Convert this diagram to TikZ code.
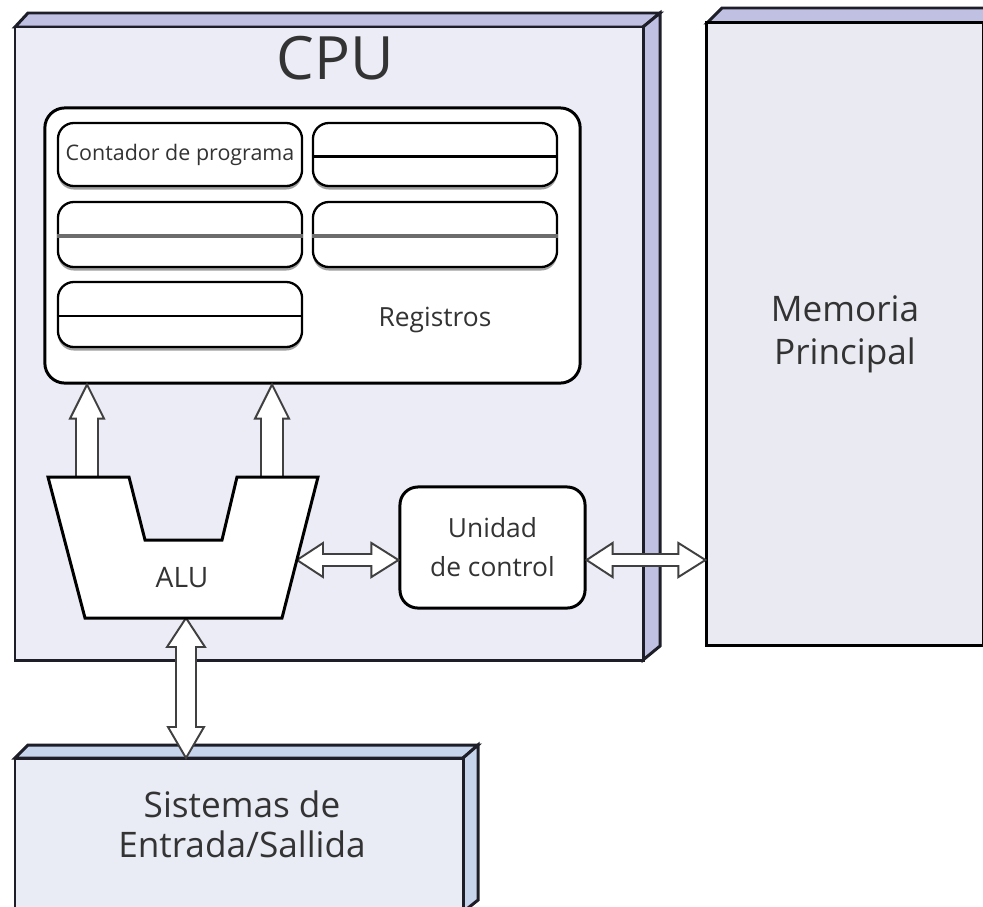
\documentclass[tikz,border=0pt]{standalone}
\usepackage{fontspec}
\setmainfont{Open Sans}
\usetikzlibrary{calc,shadows}
\definecolor{cpufill}{HTML}{ECECF6}
\definecolor{cpubevel}{HTML}{C0C0E2}
\definecolor{memfill}{HTML}{EAEAF3}
\definecolor{iofill}{HTML}{E9EBF5}
\definecolor{iobevel}{HTML}{C6D5EC}
\definecolor{txt}{HTML}{333333}
\definecolor{edge}{HTML}{1E1E28}
\tikzset{
  boxline/.style={draw=edge, line width=0.85pt, line join=miter},
  regbox/.style={draw=black, line width=0.65pt, fill=white, rounded corners=0.16cm,
    minimum width=2.44cm, minimum height=0.63cm, inner sep=0pt, text=txt,
    drop shadow={shadow xshift=0cm, shadow yshift=-0.035cm, fill=gray!75, opacity=1}},
  regsbox/.style={draw=black, line width=0.85pt, fill=white, rounded corners=0.2cm,
    minimum width=5.35cm, minimum height=2.75cm, inner sep=0pt},
  cubox/.style={draw=black, line width=0.85pt, fill=white, rounded corners=0.18cm,
    minimum width=1.85cm, minimum height=1.21cm, inner sep=0pt, align=center, text=txt,
    font=\fontsize{7.5}{11.1}\selectfont},
  memface/.style={draw=black, line width=0.85pt, fill=memfill, minimum width=2.76cm,
    minimum height=6.22cm, inner sep=0pt, align=center, text=txt,
    font=\fontsize{10}{12.2}\selectfont},
  label/.style={text=txt, inner sep=0pt, align=center},
  barrow/.style={fill=white, draw=black!75, line width=0.55pt, line join=miter},
  midline/.style={draw=black, line width=0.65pt},
  greyline/.style={draw=gray!85!black, line width=1.3pt}
}
\newcommand\blkup[2]{%
  \draw[barrow] (#2) -- ($(#2)+(17,34)$) -- ($(#2)+(11,34)$) -- ($(#1)+(11,0)$)
    -- ($(#1)+(-11,0)$) -- ($(#2)+(-11,34)$) -- ($(#2)+(-17,34)$) -- cycle;}
\newcommand\blkvv[2]{%
  \draw[barrow] (#1) -- ($(#1)+(19,29)$) -- ($(#1)+(10,29)$) -- ($(#2)+(10,-31)$)
    -- ($(#2)+(18,-31)$) -- (#2) -- ($(#2)+(-18,-31)$) -- ($(#2)+(-10,-31)$)
    -- ($(#1)+(-10,29)$) -- ($(#1)+(-19,29)$) -- cycle;}
\newcommand\blkhh[2]{%
  \draw[barrow] (#1) -- ($(#1)+(26,-17)$) -- ($(#1)+(26,-6)$) -- ($(#2)+(-27,-6)$)
    -- ($(#2)+(-27,-17)$) -- (#2) -- ($(#2)+(-27,17)$) -- ($(#2)+(-27,6)$)
    -- ($(#1)+(26,6)$) -- ($(#1)+(26,17)$) -- cycle;}
\begin{document}
\begin{tikzpicture}[x=0.01cm, y=-0.01cm]
\useasboundingbox (0,0) rectangle (983,906);
\fill[white] (0,0) rectangle (983,906);
\clip (0,0) rectangle (983,906);

% CPU box
\filldraw[boxline, fill=cpubevel] (15,27) -- (28,13) -- (660,13) -- (643,27) -- cycle;
\filldraw[boxline, fill=cpubevel] (643,27) -- (660,13) -- (660,646) -- (643,660) -- cycle;
\filldraw[boxline, fill=cpufill] (15,27) rectangle (643,660);
\node[label, font=\fontsize{17}{20}\selectfont] (cputitle) at (335,58) {CPU};

% Memory
\filldraw[boxline, fill=cpubevel] (707,23) -- (722,8) -- (995,8) -- (995,23) -- cycle;
\node[memface] (mem) at (845,334) {Memoria\\Principal};

% I/O
\filldraw[boxline, fill=iobevel] (15,758) -- (28,745) -- (478,745) -- (463,758) -- cycle;
\filldraw[boxline, fill=iobevel] (463,758) -- (478,745) -- (478,900) -- (463,912) -- cycle;
\filldraw[boxline, fill=iofill] (15,758) rectangle (463,930);
\coordinate (iotop) at (15,758);
\node[label, font=\fontsize{10}{11.4}\selectfont] (io) at (242,824) {Sistemas de\\Entrada/Sallida};

% Registers
\node[regsbox] (regs) at (312.5,245.5) {};
\node[regbox, font=\fontsize{6.1}{7}\selectfont] (r1) at (180,154.5) {Contador de programa};
\node[regbox] (r2) at (435,154.5) {};
\draw[midline] ($(r2.west)+(0,2)$) -- ($(r2.east)+(0,2)$);
\node[regbox, minimum height=0.65cm] (r3) at (180,234.5) {};
\draw[greyline] ($(r3.west)+(0,1.5)$) -- ($(r3.east)+(0,1.5)$);
\node[regbox, minimum height=0.65cm] (r4) at (435,234.5) {};
\draw[greyline] ($(r4.west)+(0,1.5)$) -- ($(r4.east)+(0,1.5)$);
\node[regbox, minimum height=0.65cm] (r5) at (180,314.5) {};
\draw[midline] ($(r5.west)+(0,1.5)$) -- ($(r5.east)+(0,1.5)$);
\node[label, font=\fontsize{7.5}{9}\selectfont] (regname) at (435,320) {Registros};

% Control unit
\node[cubox] (cu) at (492.5,547.5) {Unidad\\de control};

% arrows
\coordinate (u1s) at (87,477);
\coordinate (u1t) at (u1s |- regs.south);
\coordinate (u2s) at (272,477);
\coordinate (u2t) at (u2s |- regs.south);
\blkup{u1s}{u1t}
\blkup{u2s}{u2t}
\coordinate (h1a) at (297,560);
\coordinate (h1b) at (cu.west |- h1a);
\coordinate (h2a) at (cu.east |- h1a);
\coordinate (h2b) at (mem.west |- h1a);
\blkhh{h1a}{h1b}
\blkhh{h2a}{h2b}
\coordinate (v1a) at (186,618);
\coordinate (v1b) at (v1a |- iotop);
\blkvv{v1a}{v1b}

% ALU
\filldraw[boxline, draw=black, fill=white] (48,477) -- (129,477) -- (145,540) -- (222,540)
  -- (237,477) -- (318,477) -- (282,618) -- (85,618) -- cycle;
\node[label, font=\fontsize{8}{9}\selectfont] (alu) at (182,578) {ALU};
\end{tikzpicture}
\end{document}
